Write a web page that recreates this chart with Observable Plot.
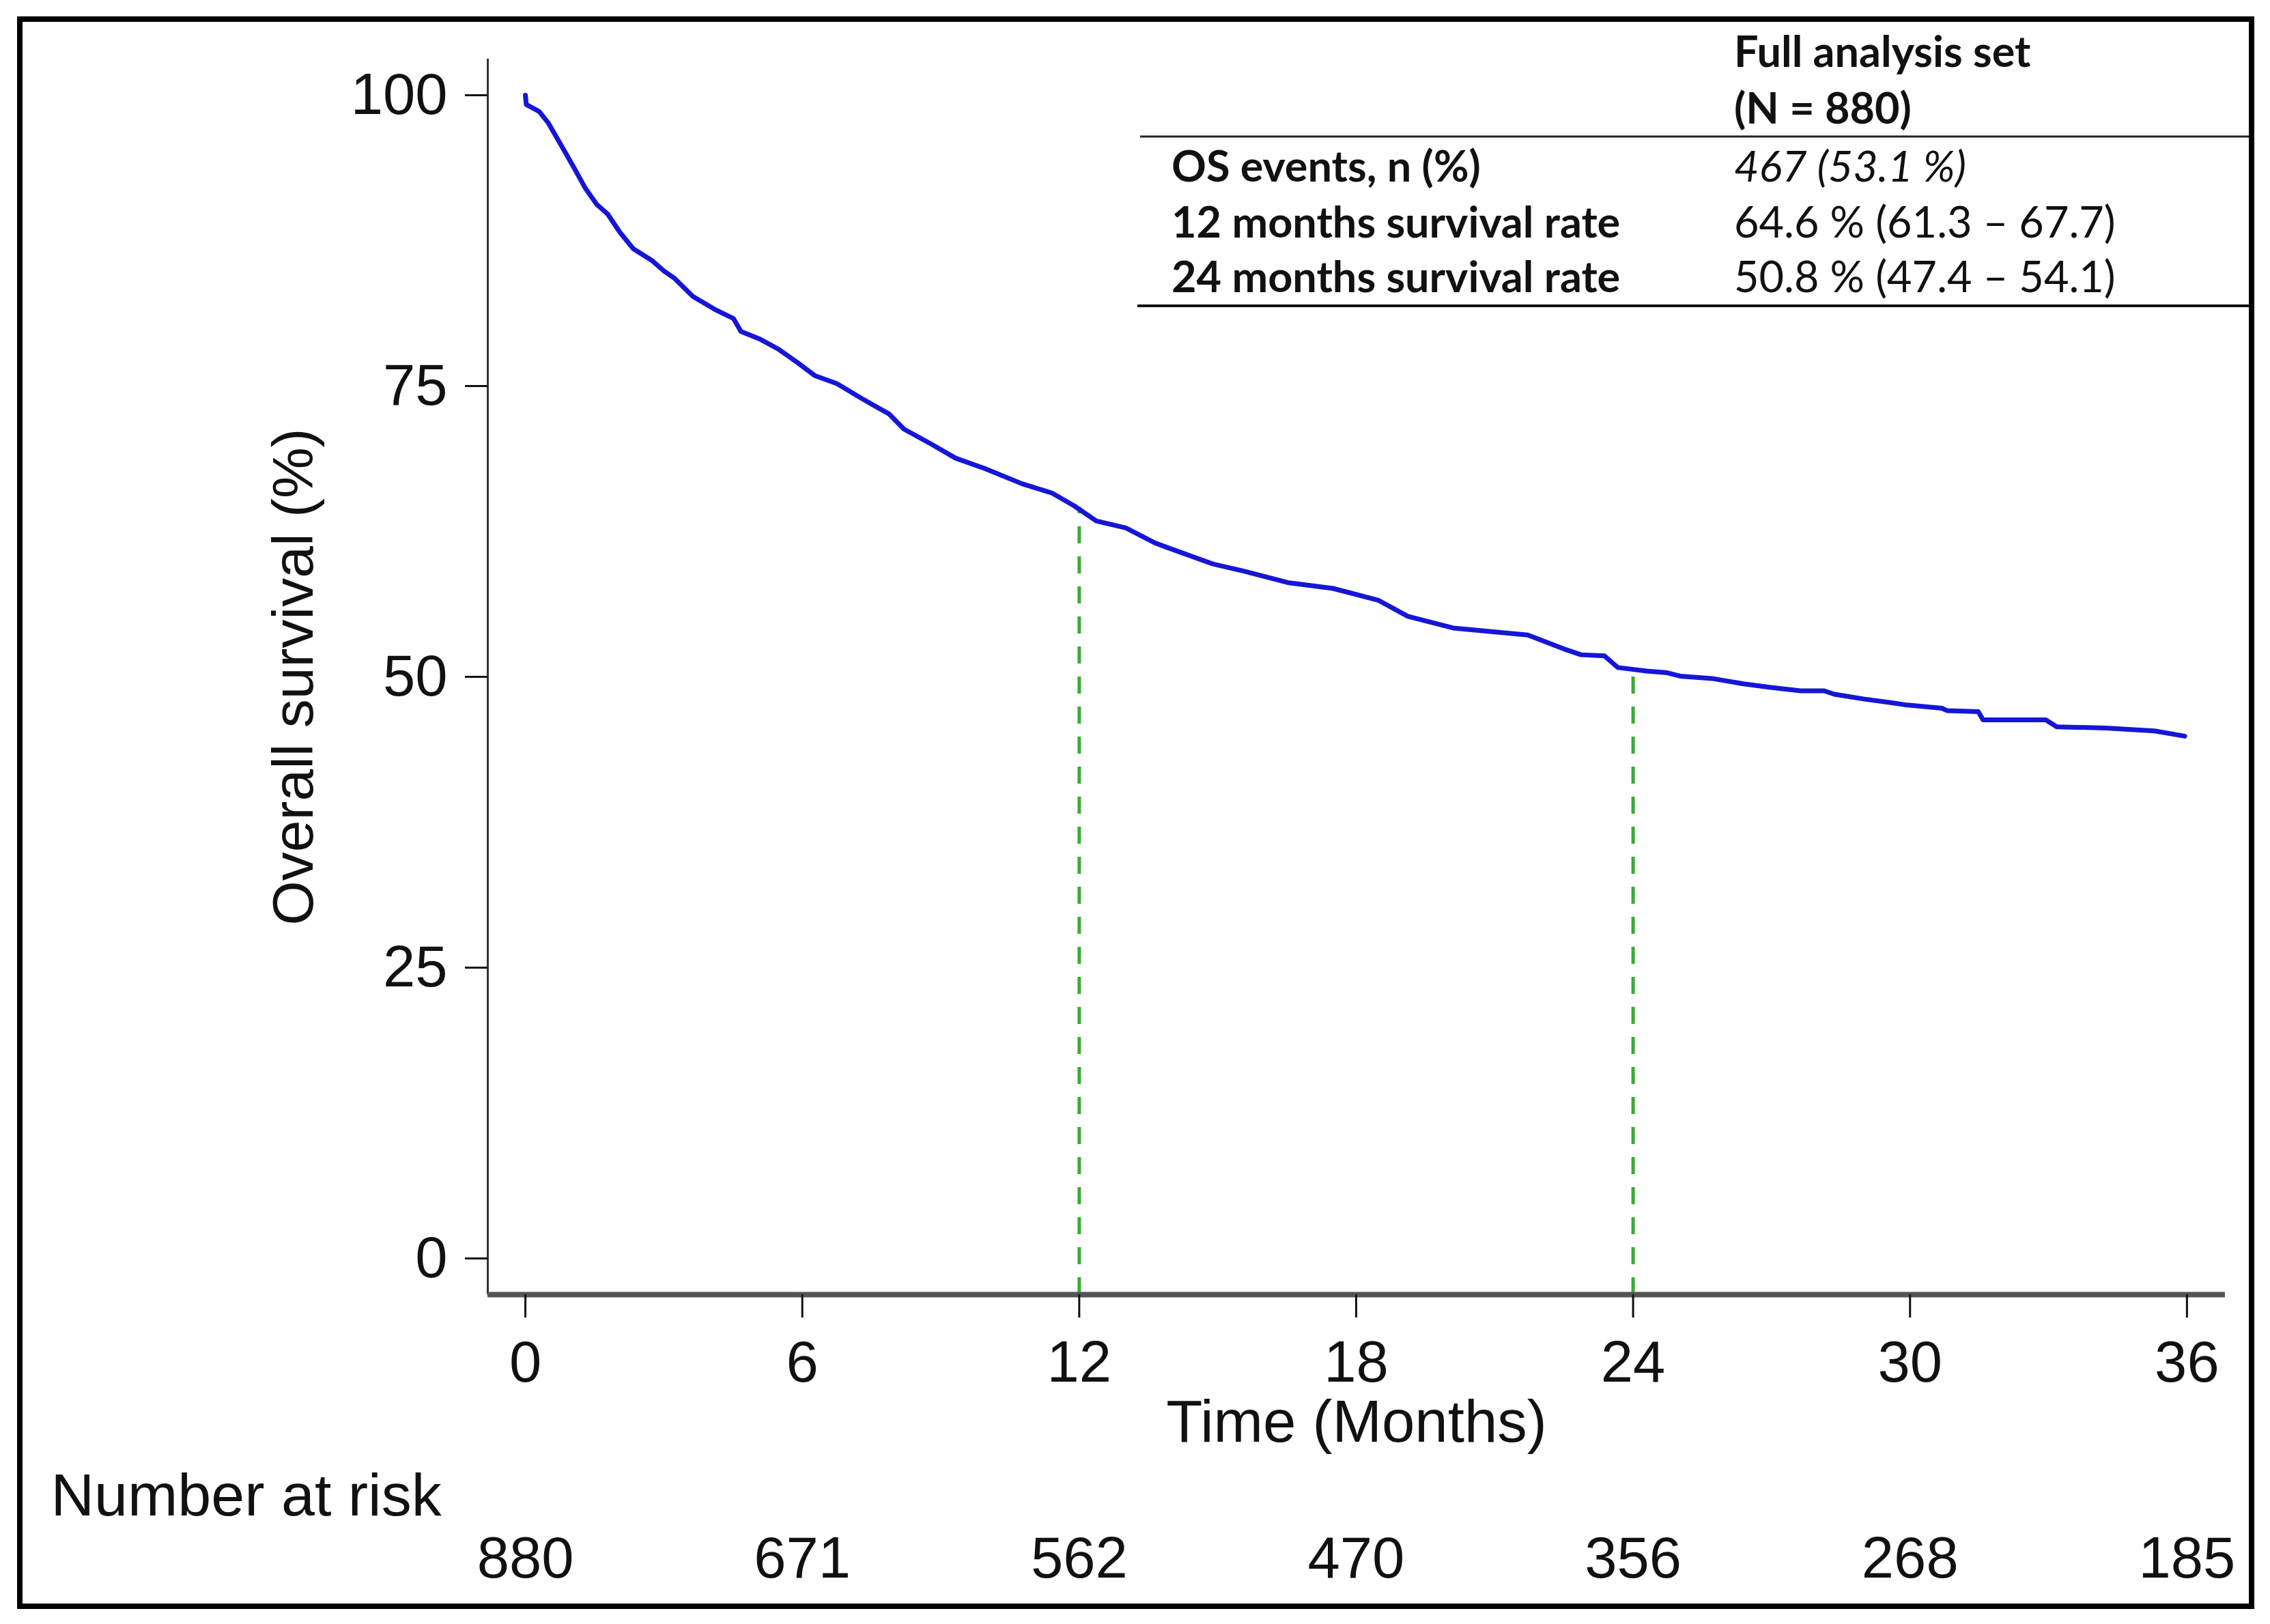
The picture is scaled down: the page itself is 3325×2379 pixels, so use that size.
<!DOCTYPE html>
<html>
<head>
<meta charset="utf-8">
<script src="https://cdn.jsdelivr.net/npm/d3@7"></script>
<script src="https://cdn.jsdelivr.net/npm/@observablehq/plot@0.6"></script>
<style>
  html, body { margin: 0; padding: 0; background: #fff; }
  #wrap { position: relative; width: 3325px; height: 2379px; background: #fff; }
  #wrap > svg { position: absolute; left: 0; top: 0; }
</style>
</head>
<body>
<div id="wrap"></div>
<script>
// ---- Data ----
const months = [0, 0.02, 0.3, 0.5, 0.82, 1.05, 1.3, 1.55, 1.78, 2.05, 2.34, 2.74, 3.0, 3.22, 3.63, 4.1, 4.51, 4.67, 5.1, 5.47, 5.9, 6.27, 6.75, 7.3, 7.88, 8.2, 8.8, 9.32, 9.96, 10.76, 11.41, 11.89, 12.37, 13.01, 13.65, 13.92, 14.9, 15.55, 16.52, 17.5, 18.47, 19.12, 20.1, 21.72, 22.5, 22.87, 23.38, 23.67, 24.29, 24.74, 25.02, 25.71, 26.39, 26.95, 27.63, 28.14, 28.36, 28.99, 29.55, 29.89, 30.69, 30.8, 31.48, 31.58, 32.94, 33.18, 34.24, 35.3, 35.95];
const survival = [100, 99.2, 98.6, 97.6, 95.4, 93.8, 92.0, 90.6, 89.8, 88.2, 86.8, 85.8, 84.9, 84.3, 82.7, 81.6, 80.8, 79.7, 79.0, 78.2, 77.0, 75.9, 75.2, 73.9, 72.6, 71.3, 70.0, 68.8, 67.9, 66.6, 65.8, 64.7, 63.4, 62.8, 61.5, 61.1, 59.7, 59.1, 58.1, 57.6, 56.6, 55.2, 54.2, 53.6, 52.4, 51.9, 51.8, 50.8, 50.5, 50.35, 50.06, 49.86, 49.4, 49.1, 48.8, 48.8, 48.5, 48.1, 47.8, 47.6, 47.3, 47.1, 47.0, 46.3, 46.3, 45.7, 45.6, 45.35, 44.9];

const xTicks = [0, 6, 12, 18, 24, 30, 36];
const yTicks = [0, 25, 50, 75, 100];
const atRiskCounts = [880, 671, 562, 470, 356, 268, 185];

const landmarkMonths = [12, 24];
const landmarkRates = [64.6, 50.8];

const tableHeader = ["Full analysis set", "(N = 880)"];
const tableLabels = ["OS events, n (%)", "12 months survival rate", "24 months survival rate"];
const tableValues = ["467 (53.1 %)", "64.6 % (61.3 \u2013 67.7)", "50.8 % (47.4 \u2013 54.1)"];

const xLabel = "Time (Months)";
const yLabel = "Overall survival (%)";
const riskLabel = "Number at risk";

// ---- Derived tables ----
const curve = months.map((m, i) => ({month: m, surv: survival[i]}));
const atRisk = xTicks.map((m, i) => ({month: m, n: atRiskCounts[i]}));
const landmarks = landmarkMonths.map((m, i) => ({month: m, rate: landmarkRates[i]}));

const xDomain = [-0.814, 36.83];
const yDomain = [-3.11, 103.11];

const W = 3325, H = 2379;
const font = "'Liberation Sans', Arial, Helvetica, sans-serif";

const chart = Plot.plot({
  width: W,
  height: H,
  marginLeft: 714,
  marginRight: 66,
  marginTop: 86,
  marginBottom: 483,
  x: {domain: xDomain},
  y: {domain: yDomain},
  style: {fontFamily: font, background: "white", color: "#111", overflow: "visible"},
  marks: [
    Plot.ruleX(landmarks, {x: "month", y1: () => yDomain[0], y2: "rate", stroke: "#3aab35", strokeWidth: 5, strokeDasharray: "25,19"}),
    Plot.line(curve, {x: "month", y: "surv", stroke: "#1616d6", strokeWidth: 7, curve: "linear", strokeLinejoin: "round"}),
    Plot.ruleX([xDomain[0]], {stroke: "#333", strokeWidth: 3}),
    Plot.ruleY([yDomain[0]], {stroke: "#555", strokeWidth: 8}),
    Plot.axisY({ticks: yTicks, tickSize: 33, tickPadding: 26, fontSize: 85, label: null, strokeWidth: 3, tickFormat: d => String(d)}),
    Plot.axisX({ticks: xTicks, tickSize: 34, tickPadding: 33, fontSize: 85, label: null, strokeWidth: 3, tickFormat: d => String(d)}),
    Plot.text(atRisk, {x: "month", y: () => yDomain[0], text: d => String(d.n), dy: 387, fontSize: 85, lineAnchor: "middle"}),
    Plot.text([xLabel], {text: d => d, frameAnchor: "bottom", dy: 188, lineAnchor: "middle", fontSize: 87}),
    Plot.text([riskLabel], {text: d => d, frameAnchor: "bottom-left", textAnchor: "start", dx: -640, dy: 295, lineAnchor: "middle", fontSize: 88}),
    Plot.text([yLabel], {text: d => d, frameAnchor: "left", textAnchor: "middle", rotate: -90, dx: -283, lineAnchor: "middle", fontSize: 84})
  ]
});
document.getElementById("wrap").appendChild(chart);

// ---- Overlay: summary table and outer border ----
const ov = d3.select("#wrap").append("svg")
  .attr("width", W).attr("height", H)
  .style("pointer-events", "none");

const tfont = "Lato, 'Open Sans', sans-serif";
const tsize = 63;
const colL = 1716, colR = 2540;
const hdrBase = [98, 181];
const rowBase = [266, 348, 428];

ov.selectAll("text.hdr").data(tableHeader).join("text")
  .attr("class", "hdr")
  .attr("x", colR).attr("y", (d, i) => hdrBase[i])
  .attr("font-family", tfont).attr("font-weight", 700).attr("font-size", tsize)
  .attr("fill", "#111").text(d => d);

ov.selectAll("text.lab").data(tableLabels).join("text")
  .attr("class", "lab")
  .attr("x", colL).attr("y", (d, i) => rowBase[i])
  .attr("font-family", tfont).attr("font-weight", 700).attr("font-size", tsize)
  .attr("fill", "#111").text(d => d);

ov.selectAll("text.val").data(tableValues).join("text")
  .attr("class", "val")
  .attr("x", colR).attr("y", (d, i) => rowBase[i])
  .attr("font-family", tfont).attr("font-weight", 400).attr("font-size", tsize)
  .attr("font-style", (d, i) => i === 0 ? "italic" : "normal")
  .attr("fill", "#111").text(d => d);

ov.append("line").attr("x1", 1670).attr("x2", 3298).attr("y1", 200).attr("y2", 200)
  .attr("stroke", "#222").attr("stroke-width", 3);
ov.append("line").attr("x1", 1666).attr("x2", 3298).attr("y1", 448).attr("y2", 448)
  .attr("stroke", "#111").attr("stroke-width", 4);

ov.append("rect").attr("x", 29).attr("y", 28).attr("width", 3269).attr("height", 2325)
  .attr("fill", "none").attr("stroke", "#000").attr("stroke-width", 8);
</script>
</body>
</html>
